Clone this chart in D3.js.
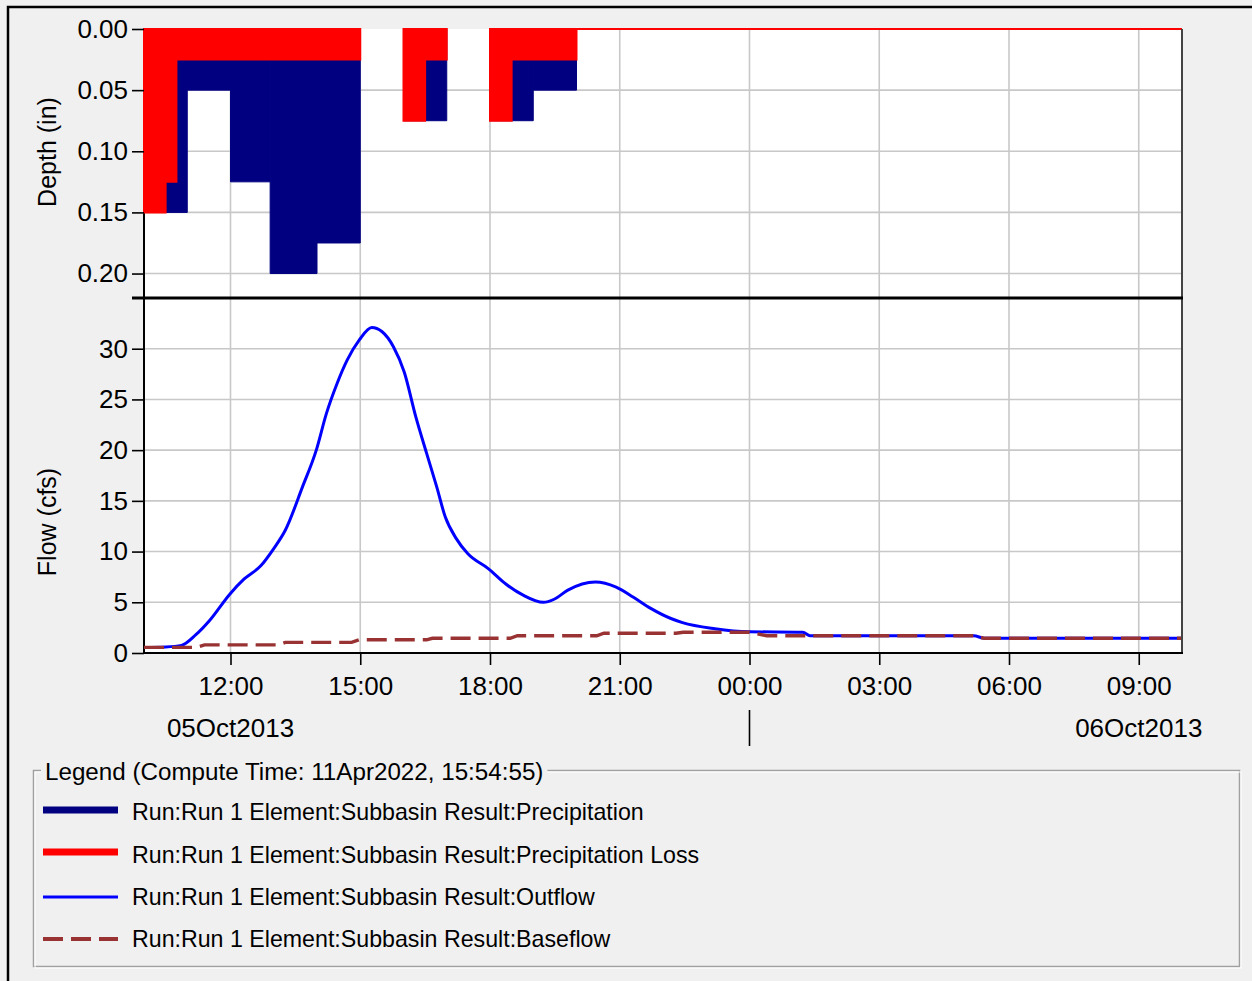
<!DOCTYPE html>
<html>
<head>
<meta charset="utf-8">
<script src="https://cdn.jsdelivr.net/npm/d3@7/dist/d3.min.js"></script>
<style>
  html, body { margin: 0; padding: 0; background: #f0f0f0; }
  svg { display: block; font-family: "Liberation Sans", Arial, sans-serif; }
  .tick text { fill: #000; }
</style>
</head>
<body>
<svg id="chart" width="1252" height="981"></svg>
<script>
  // precipitation (blue) - interval start / end / depth (in)
  const precipStart = ['05Oct2013 10:00', '05Oct2013 11:00', '05Oct2013 12:00', '05Oct2013 12:55',
    '05Oct2013 14:00', '05Oct2013 16:00', '05Oct2013 18:00', '05Oct2013 19:00'];
  const precipEnd = ['05Oct2013 11:00', '05Oct2013 12:00', '05Oct2013 12:55', '05Oct2013 14:00',
    '05Oct2013 15:00', '05Oct2013 17:00', '05Oct2013 19:00', '05Oct2013 20:00'];
  const precipDepth = [0.15, 0.05, 0.125, 0.20, 0.175, 0.075, 0.075, 0.05];

  // precipitation loss (red)
  const lossStart = ['05Oct2013 10:00', '05Oct2013 10:30', '05Oct2013 10:45', '05Oct2013 16:00',
    '05Oct2013 16:30', '05Oct2013 18:00', '05Oct2013 18:30', '05Oct2013 20:00'];
  const lossEnd = ['05Oct2013 10:30', '05Oct2013 10:45', '05Oct2013 15:00', '05Oct2013 16:30',
    '05Oct2013 17:00', '05Oct2013 18:30', '05Oct2013 20:00', '06Oct2013 10:00'];
  const lossDepth = [0.15, 0.125, 0.025, 0.075, 0.025, 0.075, 0.025, 0];

  // outflow (cfs)
  const outflowTime = ['05Oct2013 10:00', '05Oct2013 10:30', '05Oct2013 10:52', '05Oct2013 11:12',
    '05Oct2013 11:31', '05Oct2013 11:59', '05Oct2013 12:19', '05Oct2013 12:42', '05Oct2013 13:00',
    '05Oct2013 13:16', '05Oct2013 13:40', '05Oct2013 13:59', '05Oct2013 14:13', '05Oct2013 14:28',
    '05Oct2013 14:42', '05Oct2013 14:59', '05Oct2013 15:16', '05Oct2013 15:30', '05Oct2013 15:46',
    '05Oct2013 16:01', '05Oct2013 16:17', '05Oct2013 16:32', '05Oct2013 16:46', '05Oct2013 16:58',
    '05Oct2013 17:13', '05Oct2013 17:29', '05Oct2013 17:58', '05Oct2013 18:22', '05Oct2013 18:46',
    '05Oct2013 19:14', '05Oct2013 19:29', '05Oct2013 19:48', '05Oct2013 20:26', '05Oct2013 20:55',
    '05Oct2013 21:19', '05Oct2013 21:43', '05Oct2013 22:11', '05Oct2013 22:27', '05Oct2013 23:12',
    '06Oct2013 00:00', '06Oct2013 01:14', '06Oct2013 01:24', '06Oct2013 05:11', '06Oct2013 05:26',
    '06Oct2013 10:00'];
  const outflowCfs = [0.55, 0.6, 0.75, 1.8,
    3.2, 5.8, 7.3, 8.6, 10.3,
    12.1, 16.4, 20.0, 23.6, 26.6,
    28.9, 30.9, 32.1, 31.7, 30.2,
    27.7, 23.3, 19.7, 16.4, 13.4,
    11.3, 9.8, 8.3, 6.8, 5.7,
    5.0, 5.3, 6.2, 7.0, 6.5,
    5.5, 4.4, 3.4, 3.0, 2.4,
    2.1, 2.05, 1.7, 1.7, 1.45,
    1.45];

  // baseflow (cfs)
  const baseflowTime = ['05Oct2013 10:00', '05Oct2013 11:12', '05Oct2013 11:24', '05Oct2013 13:06',
    '05Oct2013 13:16', '05Oct2013 14:48', '05Oct2013 14:58', '05Oct2013 16:32', '05Oct2013 16:40',
    '05Oct2013 18:28', '05Oct2013 18:38', '05Oct2013 20:28', '05Oct2013 20:38', '05Oct2013 22:18',
    '05Oct2013 22:28', '06Oct2013 00:00', '06Oct2013 00:24', '06Oct2013 05:11', '06Oct2013 05:26',
    '06Oct2013 10:00'];
  const baseflowCfs = [0.55, 0.55, 0.8, 0.8,
    1.05, 1.05, 1.3, 1.3, 1.45,
    1.45, 1.7, 1.7, 1.95, 1.95,
    2.05, 2.05, 1.7, 1.7, 1.45,
    1.45];

  const depthTicks = [0, 0.05, 0.10, 0.15, 0.20];
  const flowTicks = [0, 5, 10, 15, 20, 25, 30];
  const dateLabels = ['05Oct2013', '06Oct2013'];
  const dateLabelAt = ['05Oct2013 12:00', '06Oct2013 09:00'];
  const dayBreak = '06Oct2013 00:00';

  const legendTitle = 'Legend (Compute Time: 11Apr2022, 15:54:55)';
  const legendNames = [
    'Run:Run 1 Element:Subbasin Result:Precipitation',
    'Run:Run 1 Element:Subbasin Result:Precipitation Loss',
    'Run:Run 1 Element:Subbasin Result:Outflow',
    'Run:Run 1 Element:Subbasin Result:Baseflow'
  ];

  const parse = d3.utcParse('%d%b%Y %H:%M');

  let svg = d3.select('#chart');
  let left = 144, right = 1182;
  let topY0 = 29, topY1 = 298;
  let botY0 = 298, botY1 = 653;

  let x = d3.scaleUtc()
    .domain([parse('05Oct2013 10:00'), parse('06Oct2013 10:00')])
    .range([left, right]);
  let yDepth = d3.scaleLinear().domain([0, 0.22]).range([topY0, topY1]);
  let yFlow = d3.scaleLinear().domain([0, 35]).range([botY1, botY0]);

  let hourTicks = x.ticks(d3.utcHour.every(3));

  // outer frame
  svg.append('path')
    .attr('d', 'M8,981V7H1252')
    .attr('fill', 'none')
    .attr('stroke', '#000')
    .attr('stroke-width', 2.5);

  // plot backgrounds
  svg.append('rect')
    .attr('x', left).attr('y', topY0)
    .attr('width', right - left).attr('height', botY1 - topY0)
    .attr('fill', '#fff');

  // grid
  let grid = svg.append('g')
    .attr('stroke', '#c8c8c8')
    .attr('stroke-width', 1.6);

  grid.selectAll('.vgrid')
    .data(hourTicks)
    .enter()
    .append('line')
    .attr('x1', function(d) { return x(d); })
    .attr('x2', function(d) { return x(d); })
    .attr('y1', topY0)
    .attr('y2', botY1);

  grid.selectAll('.hgridTop')
    .data(depthTicks.slice(1))
    .enter()
    .append('line')
    .attr('x1', left).attr('x2', right)
    .attr('y1', function(d) { return yDepth(d); })
    .attr('y2', function(d) { return yDepth(d); });

  grid.selectAll('.hgridBot')
    .data(flowTicks.slice(1))
    .enter()
    .append('line')
    .attr('x1', left).attr('x2', right)
    .attr('y1', function(d) { return yFlow(d); })
    .attr('y2', function(d) { return yFlow(d); });

  // left axis line
  svg.append('line')
    .attr('x1', left).attr('x2', left)
    .attr('y1', topY0).attr('y2', botY1 + 1)
    .attr('stroke', '#000').attr('stroke-width', 2);

  // precipitation bars
  let precip = precipStart.map(function(s, i) {
    return { start: parse(s), end: parse(precipEnd[i]), v: precipDepth[i] };
  });
  let loss = lossStart.map(function(s, i) {
    return { start: parse(s), end: parse(lossEnd[i]), v: lossDepth[i] };
  });

  // bar outline as a path so a zero depth still shows its edge
  function barPath(d) {
    return 'M' + x(d.start) + ',' + yDepth(0) +
      'H' + x(d.end) + 'V' + yDepth(d.v) + 'H' + x(d.start) + 'Z';
  }

  svg.append('g').selectAll('path')
    .data(precip)
    .enter()
    .append('path')
    .attr('d', barPath)
    .attr('fill', '#000080')
    .attr('stroke', '#000080')
    .attr('stroke-width', 1);

  svg.append('g').selectAll('path')
    .data(loss)
    .enter()
    .append('path')
    .attr('d', barPath)
    .attr('fill', '#ff0000')
    .attr('stroke', '#ff0000')
    .attr('stroke-width', 2);

  // flow lines
  let outflow = outflowTime.map(function(t, i) { return { t: parse(t), v: outflowCfs[i] }; });
  let baseflow = baseflowTime.map(function(t, i) { return { t: parse(t), v: baseflowCfs[i] }; });

  let flowLine = d3.line()
    .x(function(d) { return x(d.t); })
    .y(function(d) { return yFlow(d.v); });

  svg.append('path')
    .datum(outflow)
    .attr('d', flowLine.curve(d3.curveMonotoneX))
    .attr('fill', 'none')
    .attr('stroke', '#0000ff')
    .attr('stroke-width', 3)
    .attr('stroke-linejoin', 'round');

  svg.append('path')
    .datum(baseflow)
    .attr('d', flowLine.curve(d3.curveLinear))
    .attr('fill', 'none')
    .attr('stroke', '#993333')
    .attr('stroke-width', 3.4)
    .attr('stroke-dasharray', '20,8');

  // borders
  svg.append('line')
    .attr('x1', right).attr('x2', right)
    .attr('y1', topY0).attr('y2', botY1)
    .attr('stroke', '#444').attr('stroke-width', 2);
  svg.append('line')
    .attr('x1', 132).attr('x2', right + 1)
    .attr('y1', topY1).attr('y2', topY1)
    .attr('stroke', '#000').attr('stroke-width', 3);
  svg.append('line')
    .attr('x1', left - 1).attr('x2', right + 1)
    .attr('y1', botY1).attr('y2', botY1)
    .attr('stroke', '#000').attr('stroke-width', 2);

  // axes
  let axisTop = svg.append('g')
    .attr('transform', 'translate(' + left + ',0)')
    .call(d3.axisLeft(yDepth).tickValues(depthTicks).tickFormat(d3.format('.2f')).tickSize(12).tickPadding(4));
  let axisBot = svg.append('g')
    .attr('transform', 'translate(' + left + ',0)')
    .call(d3.axisLeft(yFlow).tickValues(flowTicks).tickSize(12).tickPadding(4));
  let axisX = svg.append('g')
    .attr('transform', 'translate(0,' + botY1 + ')')
    .call(d3.axisBottom(x).tickValues(hourTicks).tickFormat(d3.utcFormat('%H:%M')).tickSize(12).tickPadding(12));

  [axisTop, axisBot, axisX].forEach(function(a) {
    a.select('.domain').remove();
    a.selectAll('.tick line').attr('stroke', '#000').attr('stroke-width', 1.6);
    a.selectAll('.tick text').attr('font-size', 26).attr('font-family', '"Liberation Sans", Arial, sans-serif');
  });

  // date labels
  svg.selectAll('.dateLabel')
    .data(dateLabels)
    .enter()
    .append('text')
    .attr('x', function(d, i) { return x(parse(dateLabelAt[i])); })
    .attr('y', 737)
    .attr('text-anchor', 'middle')
    .attr('font-size', 26)
    .text(function(d) { return d; });

  svg.append('line')
    .attr('x1', x(parse(dayBreak))).attr('x2', x(parse(dayBreak)))
    .attr('y1', 710).attr('y2', 746)
    .attr('stroke', '#000').attr('stroke-width', 1.6);

  // axis titles
  svg.append('text')
    .attr('transform', 'translate(56,152) rotate(-90)')
    .attr('text-anchor', 'middle')
    .attr('font-size', 25)
    .text('Depth (in)');
  svg.append('text')
    .attr('transform', 'translate(56,522) rotate(-90)')
    .attr('text-anchor', 'middle')
    .attr('font-size', 25)
    .text('Flow (cfs)');

  // legend box
  let lg = svg.append('g');
  lg.append('rect')
    .attr('x', 33.5).attr('y', 770.5)
    .attr('width', 1206).attr('height', 196)
    .attr('fill', 'none')
    .attr('stroke', '#a0a0a0').attr('stroke-width', 1.5);
  lg.append('rect')
    .attr('x', 35).attr('y', 772)
    .attr('width', 1206).attr('height', 196)
    .attr('fill', 'none')
    .attr('stroke', '#fff').attr('stroke-width', 1);
  let title = lg.append('text')
    .attr('x', 45).attr('y', 780)
    .attr('font-size', 24.2)
    .text(legendTitle);
  let tb = title.node().getBBox();
  lg.insert('rect', 'text')
    .attr('x', tb.x - 4).attr('y', 765)
    .attr('width', tb.width + 8).attr('height', 12)
    .attr('fill', '#f0f0f0');

  let sampleY = [810, 852, 897, 939];
  let textY = [820, 863, 905, 947];
  let sampleColor = ['#000080', '#ff0000', '#0000ff', '#993333'];
  let sampleWidth = [7, 7, 3, 4];

  legendNames.forEach(function(name, i) {
    lg.append('line')
      .attr('x1', 43).attr('x2', 118)
      .attr('y1', sampleY[i]).attr('y2', sampleY[i])
      .attr('stroke', sampleColor[i])
      .attr('stroke-width', sampleWidth[i])
      .attr('stroke-dasharray', i === 3 ? '20,8' : null);
    lg.append('text')
      .attr('x', 132).attr('y', textY[i])
      .attr('font-size', 23.2)
      .text(name);
  });
</script>
</body>
</html>
